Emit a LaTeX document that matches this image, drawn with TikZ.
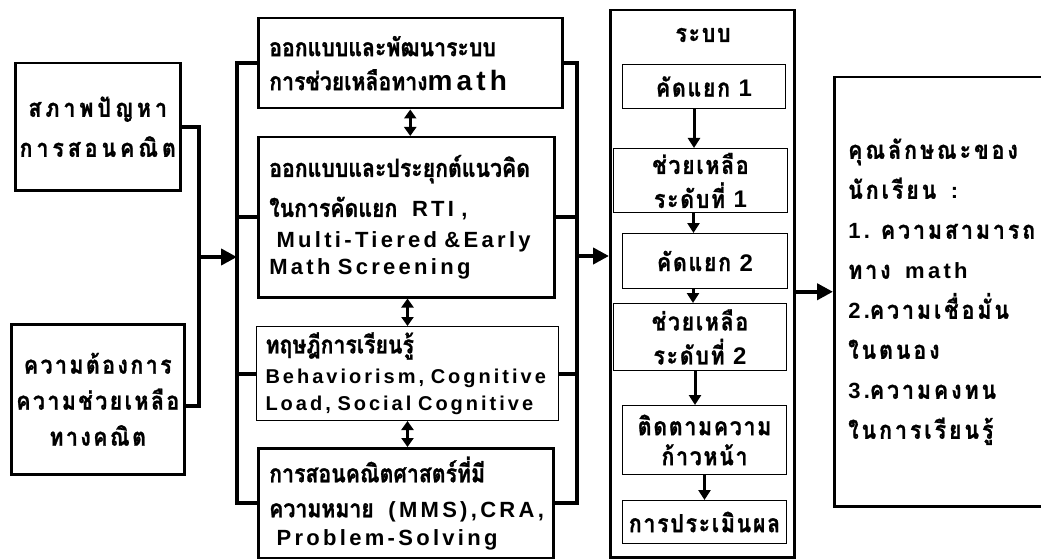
\documentclass[tikz,border=0pt]{standalone}
\usepackage{fontspec}
\setmainfont{Liberation Sans}[LetterSpace=15]
\newfontfamily\thaifont[Script=Thai,FakeStretch=0.85,BoldFeatures={FakeBold=1}]{Loma}
\usetikzlibrary{positioning,arrows.meta}
\newcommand{\tha}[2][0]{{\fontsize{25}{30}\selectfont\thaifont\addfontfeatures{LetterSpace=#1}#2}}

\begin{document}
\begin{tikzpicture}[x=1pt,y=-1pt,
  every node/.style={font=\bfseries\fontsize{20}{27}\selectfont,inner sep=0pt},
  big/.style={font=\bfseries\fontsize{22}{27}\selectfont},
  box/.style={draw,line width=2.5pt,rectangle,anchor=north west},
  thinbox/.style={draw,line width=1pt,rectangle,anchor=north west},
  conn/.style={line width=4pt},
  arr/.style={line width=4pt,-{Triangle[length=16pt,width=16pt]}},
  darr/.style={line width=3pt,{Triangle[length=9pt,width=12pt]}-{Triangle[length=9pt,width=12pt]}},
  sarr/.style={line width=3pt,-{Triangle[length=10pt,width=12pt]}}]
  \useasboundingbox (0,0) rectangle (1041,559);

  % left: problem and need
  \node[box,minimum width=165,minimum height=127,align=center] (prob) at (14,62)
    {\tha[16]{สภาพปัญหา}\\[13pt]\tha[16]{การสอนคณิต}};
  \node[box,minimum width=173,minimum height=150,align=center] (need) at (10,323)
    {\tha[10]{ความต้องการ}\\[9pt]\tha[10]{ความช่วยเหลือ}\\[9pt]\tha[10]{ทางคณิต}};

  % middle column
  \node[box,minimum width=304,minimum height=90,text width=282,align=left,inner xsep=11pt] (dev) at (257,17)
    {\tha{ออกแบบและพัฒนาระบบ}\\[7pt]\tha{การช่วยเหลือทาง}{\fontsize{28}{27}\selectfont math}};
  \node[box,big,minimum width=296,minimum height=160,text width=274,align=left,inner xsep=11pt] (rti) at (257,136)
    {\tha{ออกแบบและประยุกต์แนวคิด}\\[13pt]\tha{ในการคัดแยก} \ RTI ,\\[4pt] \ Multi-Tiered \&Early\\Math Screening};
  \node[thinbox,minimum width=302,minimum height=94,text width=284,align=left,inner xsep=9pt] (theo) at (256,326)
    {\tha{ทฤษฎีการเรียนรู้}\\[3pt]Behaviorism, Cognitive\\Load, Social Cognitive};
  \node[box,big,minimum width=295,minimum height=110,text width=273,align=left,inner xsep=11pt] (mms) at (257,447)
    {\tha{การสอนคณิตศาสตร์ที่มี}\\[8pt]\tha{ความหมาย} \ (MMS),CRA,\\[1pt] \ Problem-Solving};

  \draw[darr] (dev.south) -- (dev.south |- rti.north);
  \draw[darr] (theo.north |- rti.south) -- (theo.north);
  \draw[darr] (theo.south) -- (theo.south |- mms.north);

  % brackets
  \coordinate (jl) at (199,257);
  \coordinate (lbr) at (237,257);
  \coordinate (rbr) at (577,256);
  \draw[conn] (prob.east) -| (jl) |- ([yshift=-7pt]need.east);
  \draw[arr] (jl) -- (lbr);
  \draw[conn] (dev.west) -| (lbr) |- (mms.west);
  \draw[conn] (rti.west) -- (rti.west -| lbr);
  \draw[conn] (theo.west) -- (theo.west -| lbr);
  \draw[conn] (dev.east) -| (rbr) |- (mms.east);
  \draw[conn] (rti.east) -- (rti.east -| rbr);
  \draw[conn] (theo.east) -- (theo.east -| rbr);

  % system column
  \node[box,minimum width=184,minimum height=547] (sys) at (609,9) {};
  \draw[arr] (rbr) -- (rbr -| sys.west);
  \node (systitle) at (703,35) {\tha[7]{ระบบ}};
  \node[thinbox,minimum width=163,minimum height=44] (scr1) at (622,64)
    {\tha[7]{คัดแยก} {\fontsize{24}{27}\selectfont 1}};
  \node[thinbox,minimum width=174,minimum height=64,align=center] (help1) at (613,148)
    {\tha[7]{ช่วยเหลือ}\\[7pt]\tha[7]{ระดับที่} {\fontsize{24}{27}\selectfont 1}};
  \node[thinbox,minimum width=165,minimum height=55] (scr2) at (622,233)
    {\tha[7]{คัดแยก} {\fontsize{24}{27}\selectfont 2}};
  \node[thinbox,minimum width=173,minimum height=67,align=center] (help2) at (613,303)
    {\tha[7]{ช่วยเหลือ}\\[7pt]\tha[7]{ระดับที่} {\fontsize{24}{27}\selectfont 2}};
  \node[thinbox,minimum width=164,minimum height=69,align=center] (track) at (622,405)
    {\tha[7]{ติดตามความ}\\[3pt]\tha[7]{ก้าวหน้า}};
  \node[thinbox,minimum width=164,minimum height=43] (eval) at (622,500)
    {\tha[7]{การประเมินผล}};

  \draw[sarr] ([xshift=-10pt]scr1.south) -- ([xshift=-10pt]scr1.south |- help1.north);
  \draw[sarr] ([xshift=-7pt]help1.south) -- ([xshift=-7pt]help1.south |- scr2.north);
  \draw[sarr] ([xshift=-12pt]scr2.south) -- ([xshift=-12pt]scr2.south |- help2.north);
  \draw[sarr] ([xshift=-5pt]help2.south) -- ([xshift=-5pt]help2.south |- track.north);
  \draw[sarr] (track.south) -- (track.south |- eval.north);

  % outcome
  \node[box,minimum width=207,minimum height=429,text width=187,align=left,inner xsep=14pt,
    font=\bfseries\fontsize{22}{40}\selectfont] (out) at (833,76)
    {\tha[12]{คุณลักษณะของ}\\\tha[12]{นักเรียน} \ :\\1. \tha[12]{ความสามารถ}\\\tha[12]{ทาง} \ math\\2.\tha[12]{ความเชื่อมั่น}\\\tha[12]{ในตนอง}\\3.\tha[12]{ความคงทน}\\\tha[12]{ในการเรียนรู้}};
  \draw[arr] (sys.east |- out.west) -- (out.west);
\end{tikzpicture}
\end{document}
